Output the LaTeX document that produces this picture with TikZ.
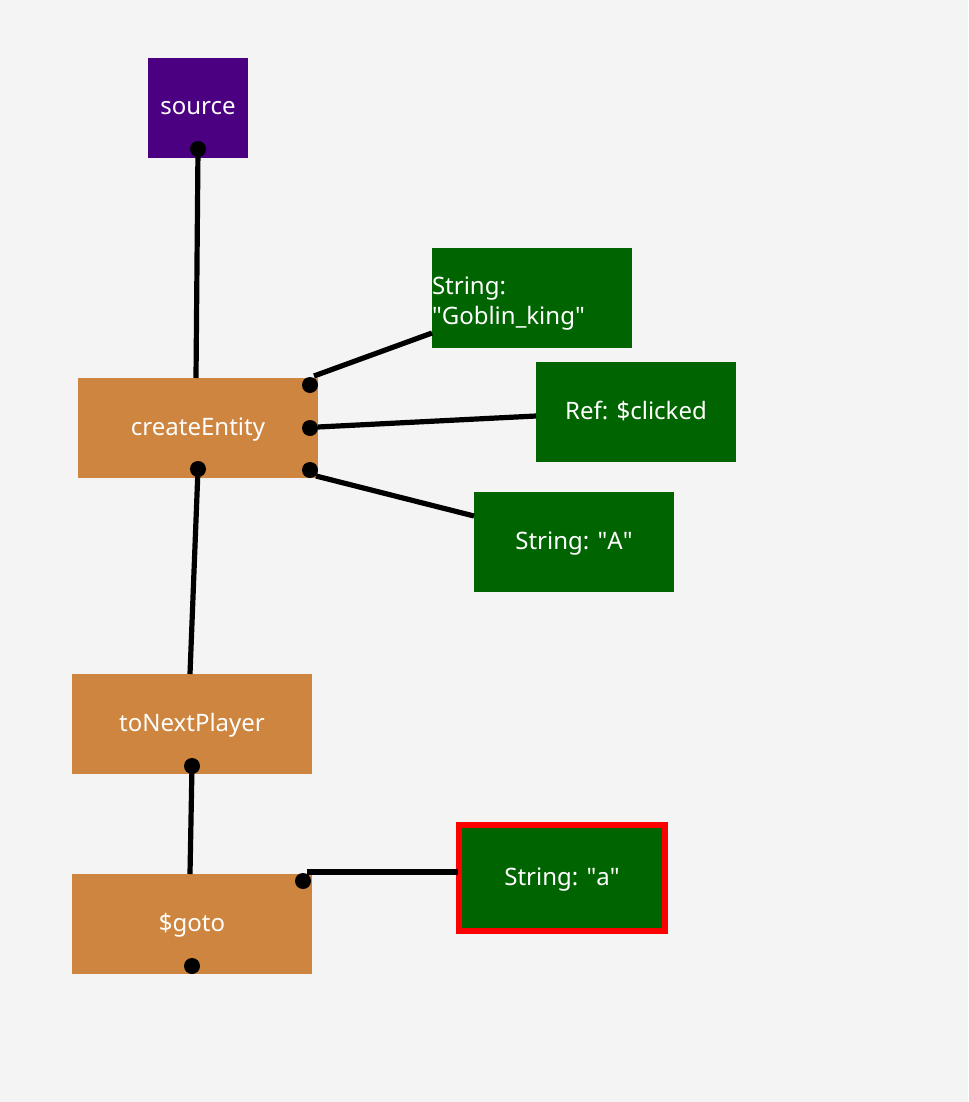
\documentclass[tikz,border=0pt]{standalone}
\usepackage{fontspec}
\setmainfont{Noto Sans}
\definecolor{bgcolor}{HTML}{F4F4F4}
\definecolor{srccolor}{HTML}{4B0082}
\definecolor{opcolor}{HTML}{CD853F}
\definecolor{argcolor}{HTML}{006400}
\newcommand{\qt}{\textquotedbl}
\begin{document}
\begin{tikzpicture}[
        x=0.75pt, y=-0.75pt,
        box/.style={rectangle, inner sep=0pt, text=white, font=\fontsize{18}{22.5}\selectfont, text height=1.2em, text depth=0.15em},
        srcbox/.style={box, fill=srccolor, minimum width=75pt, minimum height=75pt},
        opbox/.style={box, fill=opcolor, minimum width=180pt, minimum height=75pt},
        argbox/.style={box, fill=argcolor, minimum width=150pt, minimum height=75pt},
        port/.style={circle, fill=black, minimum size=12pt, inner sep=0pt},
        wire/.style={line width=3.9pt, draw=black}
    ]

        \fill[bgcolor] (0,0) rectangle (968,1102);
        \useasboundingbox (0,0) rectangle (968,1102);

        % blocks
        \node[srcbox] (source) at (198,108) {source};
        \node[opbox] (create) at (198,428) {createEntity};
        \node[opbox] (next) at (192,724) {toNextPlayer};
        \node[opbox] (goto) at (192,924) {\$goto};

        % arguments
        \node[argbox] (goblin) at (532,298) {};
        \node[rectangle, inner sep=0pt, text=white, font=\fontsize{18}{22.5}\selectfont, align=left, text width=150pt, anchor=west] at ([yshift=-4pt]goblin.west) {String:\\\qt Goblin\_king\qt};
        \node[argbox] (clicked) at (636,412) {Ref: \$clicked};
        \node[argbox] (stra) at (574,542) {String: \qt A\qt};
        \node[argbox, draw=red, line width=4.5pt, minimum width=154.5pt, minimum height=79.5pt] (strsmall) at (562,878) {String: \qt a\qt};

        % wire ends
        \coordinate (create-in) at (196,378);
        \coordinate (create-a1) at (314,376);
        \coordinate (create-a2) at (318,427);
        \coordinate (create-a3) at (316,476);
        \coordinate (next-in) at (190,674);
        \coordinate (goto-in) at (190,874);
        \coordinate (goto-a1) at (307,872);
        \coordinate (goblin-in) at (432,333);
        \coordinate (clicked-in) at (536,416);
        \coordinate (stra-in) at (474,516);
        \coordinate (strsmall-in) at (458,872);

        % ports
        \node[port] (source-out) at (198,149) {};
        \node[port] (create-p1) at (310,385) {};
        \node[port] (create-p2) at (310,428) {};
        \node[port] (create-p3) at (310,470) {};
        \node[port] (create-out) at (198,469) {};
        \node[port] (next-out) at (192,766) {};
        \node[port] (goto-p1) at (303,881) {};
        \node[port] (goto-out) at (192,966) {};

        % wires
        \draw[wire] (source-out.center) -- (create-in);
        \draw[wire] (create-out.center) -- (next-in);
        \draw[wire] (next-out.center) -- (goto-in);
        \draw[wire] (create-a1) -- (goblin-in);
        \draw[wire] (create-a2) -- (clicked-in);
        \draw[wire] (create-a3) -- (stra-in);
        \draw[wire] (goto-a1) -- (strsmall-in);

    \end{tikzpicture}
\end{document}
